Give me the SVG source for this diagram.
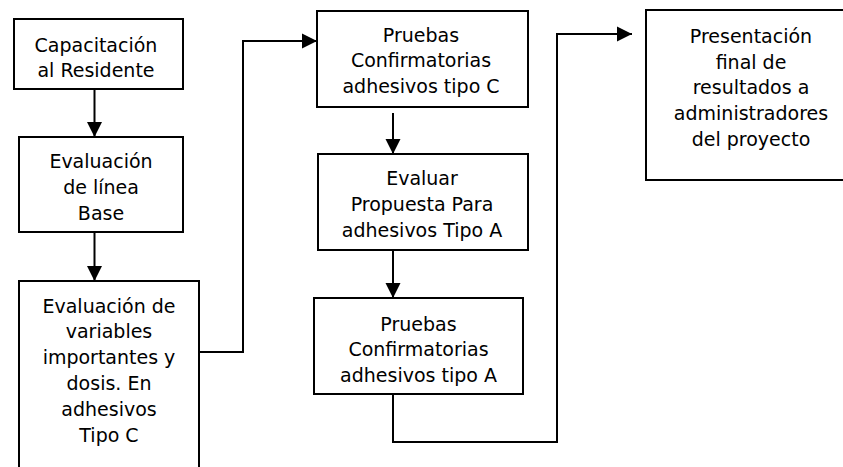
<svg xmlns="http://www.w3.org/2000/svg" width="843" height="467" viewBox="0 0 843 467">
<style>
.box{fill:#fff;stroke:#000;stroke-width:2}
.t{font-family:"DejaVu Sans",Verdana,sans-serif;font-size:19px;fill:#000;text-anchor:middle}
.c{fill:none;stroke:#000;stroke-width:2}
</style>
<defs>
<marker id="ah" markerUnits="userSpaceOnUse" markerWidth="16" markerHeight="16" viewBox="0 0 16 16" refX="15" refY="8" orient="auto">
<path d="M0,0.5 L15,8 L0,15.5 z" fill="#000"/>
</marker>
</defs>
<rect width="843" height="467" fill="#fff"/>
<g id="connectors">
<path class="c" d="M94.5,89 V137" marker-end="url(#ah)"/>
<path class="c" d="M94.5,232 V281" marker-end="url(#ah)"/>
<path class="c" d="M199,352 H243 V41 H317" marker-end="url(#ah)"/>
<path class="c" d="M393,113 V154" marker-end="url(#ah)"/>
<path class="c" d="M393,250 V298" marker-end="url(#ah)"/>
<path class="c" d="M393,394 V442 H557 V34 H632" marker-end="url(#ah)"/>
</g>
<g id="n1">
<rect class="box" x="14" y="19" width="169" height="70"/>
<text class="t" x="96" y="52">Capacitación</text>
<text class="t" x="96" y="77">al Residente</text>
</g>
<g id="n2">
<rect class="box" x="19" y="137" width="164" height="95"/>
<text class="t" x="101" y="168">Evaluación</text>
<text class="t" x="101" y="194">de línea</text>
<text class="t" x="101" y="220">Base</text>
</g>
<g id="n3">
<rect class="box" x="19" y="281" width="180" height="200"/>
<text class="t" x="109" y="313">Evaluación de</text>
<text class="t" x="109" y="338">variables</text>
<text class="t" x="109" y="364">importantes y</text>
<text class="t" x="109" y="390">dosis. En</text>
<text class="t" x="109" y="416">adhesivos</text>
<text class="t" x="109" y="442">Tipo C</text>
</g>
<g id="n4">
<rect class="box" x="317" y="11" width="211" height="96"/>
<text class="t" x="421" y="42">Pruebas</text>
<text class="t" x="421" y="67">Confirmatorias</text>
<text class="t" x="421" y="93">adhesivos tipo C</text>
</g>
<g id="n5">
<rect class="box" x="318" y="154" width="210" height="96"/>
<text class="t" x="422" y="185">Evaluar</text>
<text class="t" x="422" y="211">Propuesta Para</text>
<text class="t" x="422" y="237">adhesivos Tipo A</text>
</g>
<g id="n6">
<rect class="box" x="314" y="298" width="209" height="96"/>
<text class="t" x="418.5" y="331">Pruebas</text>
<text class="t" x="418.5" y="356">Confirmatorias</text>
<text class="t" x="418.5" y="382">adhesivos tipo A</text>
</g>
<g id="n7">
<rect class="box" x="646" y="10" width="210" height="170"/>
<text class="t" x="751" y="43">Presentación</text>
<text class="t" x="751" y="69">final de</text>
<text class="t" x="751" y="94">resultados a</text>
<text class="t" x="751" y="120">administradores</text>
<text class="t" x="751" y="146">del proyecto</text>
</g>
</svg>
